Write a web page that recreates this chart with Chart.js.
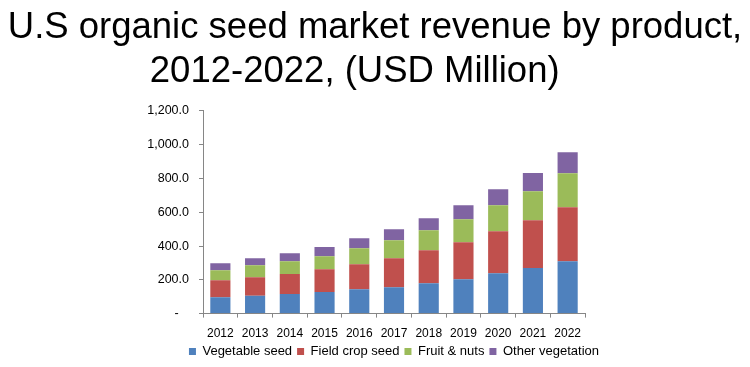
<!DOCTYPE html>
<html>
<head>
<meta charset="utf-8">
<script src="https://cdn.jsdelivr.net/npm/chart.js@4"></script>
<style>
html,body{margin:0;padding:0;background:#fff;}
#wrap{width:750px;height:367px;position:relative;}
</style>
</head>
<body>
<div id="wrap"><canvas id="c" width="750" height="367"></canvas></div>
<script>
const years = ['2012','2013','2014','2015','2016','2017','2018','2019','2020','2021','2022'];
const vegetableSeed = [97, 105, 116, 128, 144, 156, 180, 203, 239, 270, 310];
const fieldCropSeed = [100, 110, 119, 134, 148, 172, 195, 219, 249, 283, 320];
const fruitNuts = [60, 71, 75, 77, 95, 106, 119, 137, 154, 172, 201];
const otherVegetation = [41, 42, 47, 55, 59, 65, 71, 83, 95, 107, 124];
const titleLines = ['U.S organic seed market revenue by product,', '2012-2022, (USD Million)    '];

const FONT = "'Liberation Sans', Arial, sans-serif";
const mk = (label, data, color) => ({label, data, backgroundColor: color, borderWidth: 0, categoryPercentage: 1, barPercentage: 0.58, yAxisID: 'y'});

const shiftLegend = {
  id: 'shiftLegend',
  afterLayout(chart) {
    const lg = chart.legend;
    if (!lg) return;
    const ca = chart.chartArea;
    const dx = (ca.left + ca.right) / 2 - (lg.left + lg.right) / 2;
    lg.left += dx; lg.right += dx;
    if (lg.legendHitBoxes) lg.legendHitBoxes.forEach(b => { b.left += dx; });
  }
};

new Chart(document.getElementById('c'), {
  type: 'bar',
  data: {
    labels: years,
    datasets: [
      mk('Vegetable seed', vegetableSeed, '#4F81BD'),
      mk('Field crop seed', fieldCropSeed, '#C0504D'),
      mk('Fruit & nuts', fruitNuts, '#9BBB59'),
      mk('Other vegetation', otherVegetation, '#8064A2')
    ]
  },
  plugins: [shiftLegend],
  options: {
    responsive: false,
    animation: false,
    devicePixelRatio: 1,
    layout: {padding: {left: 0, right: 0, top: 0, bottom: -1}},
    plugins: {
      tooltip: {enabled: false},
      title: {
        display: true,
        text: titleLines,
        color: '#000',
        font: {family: FONT, size: 36.5, weight: 'normal', lineHeight: 1.205},
        padding: {top: 6, bottom: 17}
      },
      legend: {
        position: 'bottom',
        labels: {
          boxWidth: 7, boxHeight: 7, padding: 5, color: '#000',
          font: {family: FONT, size: 13}
        }
      }
    },
    scales: {
      x: {
        stacked: true,
        afterFit: s => { s.height -= 10; },
        grid: {display: true, drawOnChartArea: false, drawTicks: true, tickLength: 4, color: '#868686', offset: true},
        border: {display: true, color: '#868686'},
        ticks: {color: '#000', font: {family: FONT, size: 12}, padding: 9, maxRotation: 0}
      },
      y: {
        stacked: true,
        min: 0, max: 1200,
        afterFit: s => { s.width = 203; },
        grid: {display: true, drawOnChartArea: false, drawTicks: true, tickLength: 4, color: '#868686'},
        border: {display: true, color: '#868686'},
        ticks: {
          stepSize: 200, color: '#000', font: {family: FONT, size: 12.5}, padding: 10,
          callback: v => v === 0 ? '-   ' : v.toLocaleString('en-US', {minimumFractionDigits: 1, maximumFractionDigits: 1})
        }
      },
      yRight: {
        position: 'right',
        display: true,
        afterFit: s => { s.width = 165; },
        grid: {display: false},
        border: {display: false},
        ticks: {display: false}
      }
    }
  }
});
</script>
</body>
</html>
